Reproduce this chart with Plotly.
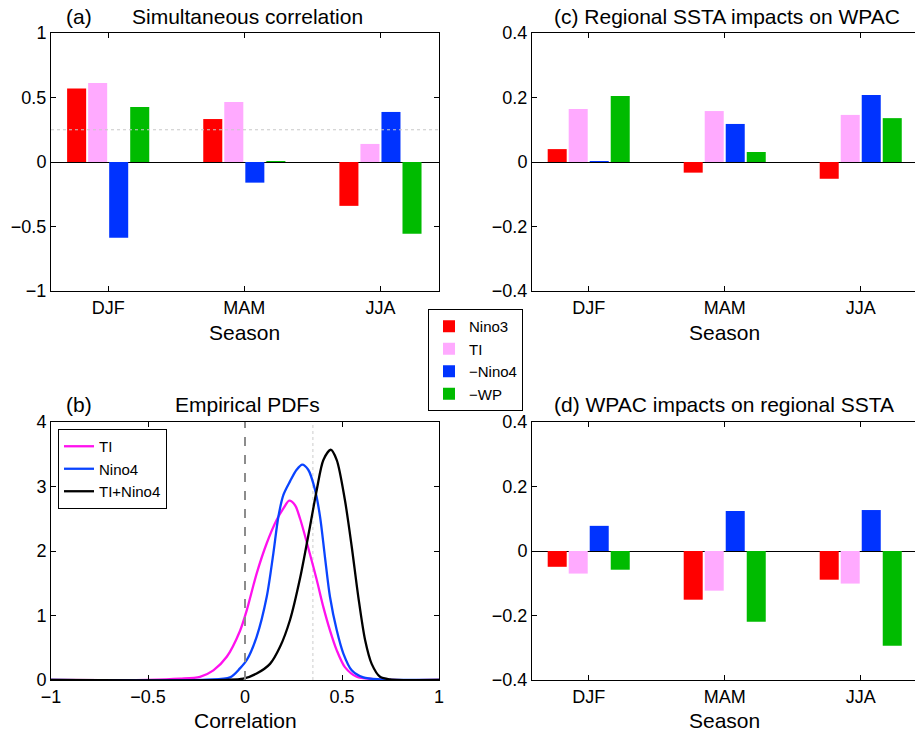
import plotly.graph_objects as go

# ---------------- data ----------------
seasons = ["DJF", "MAM", "JJA"]
season_pos = [1, 2, 3]
series_names = ["Nino3", "TI", "\u2212Nino4", "\u2212WP"]
series_colors = ["#ff0000", "#ffaaff", "#0033ff", "#00bb00"]

# (a) Simultaneous correlation
corr_nino3 = [0.57, 0.333, -0.34]
corr_ti = [0.612, 0.465, 0.14]
corr_mnino4 = [-0.587, -0.16, 0.388]
corr_mwp = [0.426, 0.005, -0.556]

# (c) Regional SSTA impacts on WPAC
wpac_nino3 = [0.040, -0.033, -0.052]
wpac_ti = [0.164, 0.158, 0.146]
wpac_mnino4 = [0.002, 0.118, 0.208]
wpac_mwp = [0.205, 0.031, 0.136]

# (d) WPAC impacts on regional SSTA
sst_nino3 = [-0.049, -0.151, -0.089]
sst_ti = [-0.070, -0.123, -0.101]
sst_mnino4 = [0.078, 0.124, 0.127]
sst_mwp = [-0.058, -0.219, -0.294]

# reference / significance levels
corr_sig = 0.25
pdf_sig = 0.35
pdf_zero = 0.0

# (b) Empirical PDFs
ti_x = [-1, -0.5, -0.335, -0.232, -0.163, -0.094, -0.026, 0.009, 0.06, 0.112, 0.163,
        0.198, 0.228, 0.258, 0.284, 0.335, 0.37, 0.404, 0.438, 0.473, 0.515, 0.576,
        0.661, 0.75, 1]
ti_y = [0, 0.002, 0.02, 0.05, 0.15, 0.36, 0.76, 1.08, 1.65, 2.12, 2.48,
        2.66, 2.78, 2.71, 2.50, 1.95, 1.55, 1.13, 0.77, 0.46, 0.20, 0.05,
        0.015, 0, 0]

nino4_x = [-1, -0.2, -0.077, -0.026, 0.009, 0.06, 0.112, 0.146, 0.172, 0.198, 0.232,
           0.266, 0.295, 0.326, 0.361, 0.387, 0.412, 0.438, 0.473, 0.507, 0.55, 0.61,
           0.696, 1]
nino4_y = [0, 0.005, 0.04, 0.18, 0.31, 0.67, 1.29, 1.96, 2.53, 2.87, 3.08,
           3.26, 3.34, 3.26, 2.95, 2.53, 1.91, 1.29, 0.77, 0.41, 0.15, 0.04,
           0.01, 0]

both_x = [-1, -0.1, -0.009, 0.06, 0.129, 0.18, 0.232, 0.284, 0.335, 0.37, 0.404,
          0.442, 0.473, 0.515, 0.55, 0.584, 0.619, 0.653, 0.696, 0.747, 1]
both_y = [0, 0.002, 0.02, 0.10, 0.25, 0.51, 0.93, 1.58, 2.38, 2.95, 3.41,
          3.57, 3.41, 2.79, 2.07, 1.29, 0.62, 0.25, 0.05, 0.01, 0]

pdf_names = ["TI", "Nino4", "TI+Nino4"]
pdf_colors = ["#ff11ee", "#0a44ff", "#000000"]

# ---------------- figure ----------------
FONT = "Liberation Sans, Arial, Helvetica, sans-serif"

W, H = 915, 735


def px(x):
    return x / W


def py(y):
    return 1 - y / H


fig = go.Figure()

panels = [
    ("x", "y", [corr_nino3, corr_ti, corr_mnino4, corr_mwp], True),
    ("x3", "y3", [wpac_nino3, wpac_ti, wpac_mnino4, wpac_mwp], False),
    ("x4", "y4", [sst_nino3, sst_ti, sst_mnino4, sst_mwp], False),
]
for xa, ya, vals, show in panels:
    for name, col, v in zip(series_names, series_colors, vals):
        fig.add_trace(go.Bar(
            x=season_pos, y=v, name=name, marker=dict(color=col, line=dict(width=0)),
            xaxis=xa, yaxis=ya, showlegend=show, legendgroup=name, legend="legend"))

for name, col, xs, ys in zip(pdf_names, pdf_colors, [ti_x, nino4_x, both_x], [ti_y, nino4_y, both_y]):
    fig.add_trace(go.Scatter(
        x=xs, y=ys, name=name, mode="lines",
        line=dict(color=col, width=2.3, shape="spline", smoothing=0.8),
        xaxis="x2", yaxis="y2", legend="legend2"))

left_dom = [px(51), px(439)]
right_dom = [px(532), 1.0]
top_dom = [py(291), py(33)]
bot_dom = [py(680), py(422)]

tickfont = dict(family=FONT, size=18, color="black")
common = dict(showline=True, linecolor="black", linewidth=1, ticks="inside", ticklen=5,
              tickcolor="black", showgrid=False, tickfont=tickfont, automargin=False)

season_x = dict(common, tickmode="array", tickvals=season_pos, ticktext=seasons, zeroline=False)

fig.update_layout(
    template="none",
    width=W, height=H,
    margin=dict(l=0, r=0, t=0, b=0, pad=0),
    paper_bgcolor="white", plot_bgcolor="white",
    font=dict(family=FONT, color="black"),
    barmode="group", bargap=0.382, bargroupgap=0.095,
    xaxis=dict(season_x, domain=left_dom, range=[0.58, 3.43], anchor="y", mirror="ticks"),
    yaxis=dict(common, domain=top_dom, range=[-1, 1], tickvals=[-1, -0.5, 0, 0.5, 1],
               anchor="x", mirror="ticks", zeroline=True, zerolinecolor="black", zerolinewidth=1),
    xaxis2=dict(common, domain=left_dom, range=[-1, 1], tickvals=[-1, -0.5, 0, 0.5, 1],
                anchor="y2", mirror="ticks", zeroline=False),
    yaxis2=dict(common, domain=bot_dom, range=[0, 4], tickvals=[0, 1, 2, 3, 4],
                anchor="x2", mirror="ticks", zeroline=False),
    xaxis3=dict(season_x, domain=right_dom, range=[0.583, 3.399], anchor="y3", mirror="ticks"),
    yaxis3=dict(common, domain=top_dom, range=[-0.4, 0.4], tickvals=[-0.4, -0.2, 0, 0.2, 0.4],
                anchor="x3", mirror=False, zeroline=True, zerolinecolor="black", zerolinewidth=1),
    xaxis4=dict(season_x, domain=right_dom, range=[0.583, 3.399], anchor="y4", mirror="ticks"),
    yaxis4=dict(common, domain=bot_dom, range=[-0.4, 0.4], tickvals=[-0.4, -0.2, 0, 0.2, 0.4],
                anchor="x4", mirror=False, zeroline=True, zerolinecolor="black", zerolinewidth=1),
    legend=dict(x=px(428), y=py(309), xanchor="left", yanchor="top",
                bgcolor="white", bordercolor="black", borderwidth=1,
                font=dict(family=FONT, size=15, color="black"), tracegroupgap=0,
                itemsizing="constant"),
    legend2=dict(x=px(58), y=py(429), xanchor="left", yanchor="top",
                 bgcolor="white", bordercolor="black", borderwidth=1,
                 font=dict(family=FONT, size=15, color="black"), tracegroupgap=0),
)

# reference lines
fig.add_shape(type="line", xref="x domain", yref="y", x0=0, x1=1, y0=corr_sig, y1=corr_sig,
              line=dict(color="#c8c8c8", width=1, dash="dot"), layer="above")
fig.add_shape(type="line", xref="x2", yref="y2 domain", x0=pdf_zero, x1=pdf_zero, y0=0, y1=1,
              line=dict(color="#8c8c8c", width=2, dash="dash"), layer="above")
fig.add_shape(type="line", xref="x2", yref="y2 domain", x0=pdf_sig, x1=pdf_sig, y0=0, y1=1,
              line=dict(color="#cccccc", width=1, dash="dot"), layer="below")

# titles & axis labels
tf = dict(family=FONT, size=21, color="black")
ann = [
    ("(a)", 79, 16),
    ("Simultaneous correlation", 247, 16),
    ("(c) Regional SSTA impacts on WPAC", 727, 16),
    ("(b)", 79, 404),
    ("Empirical PDFs", 247, 404),
    ("(d) WPAC impacts on regional SSTA", 724, 404),
    ("Season", 244, 332),
    ("Season", 724, 332),
    ("Correlation", 245, 720),
    ("Season", 724, 720),
]
for text, x, y in ann:
    fig.add_annotation(text=text, x=px(x), y=py(y), xref="paper", yref="paper",
                       xanchor="center", yanchor="middle", showarrow=False, font=tf)

# remove the default page margin so the 915x735 figure fills the window exactly
fig.write_html("out.html",
               config={"displayModeBar": False},
               post_script="document.body.style.margin='0px';document.body.style.overflow='hidden';")
